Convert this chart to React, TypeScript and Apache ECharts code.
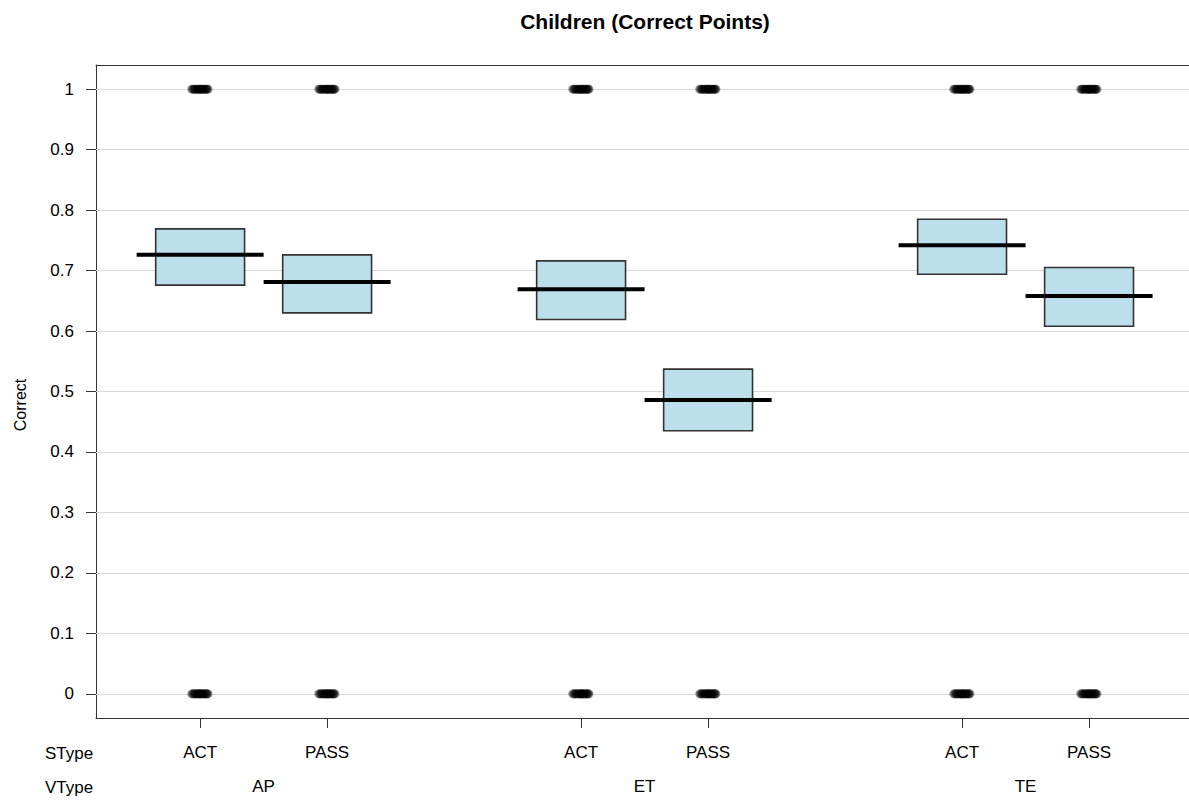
import React, { useEffect, useRef } from "react";
import * as echarts from "echarts";

const TITLE = "Children (Correct Points)";
const Y_NAME = "Correct";
const STYPE = ["ACT", "PASS", "ACT", "PASS", "ACT", "PASS"];
const VTYPE = ["AP", "ET", "TE"];
const MEANS = [0.726, 0.681, 0.669, 0.486, 0.742, 0.658];
const HDI_LOW = [0.676, 0.63, 0.619, 0.435, 0.694, 0.608];
const HDI_HIGH = [0.769, 0.726, 0.716, 0.537, 0.785, 0.705];
const Y_TICKS = [0, 0.1, 0.2, 0.3, 0.4, 0.5, 0.6, 0.7, 0.8, 0.9, 1];
const OUTCOMES = [0, 1];
// hand-placed horizontal jitter of the raw 0/1 observations
const JITTER = [
  -0.066, -0.058, -0.05, -0.044, -0.036, -0.03, -0.022, -0.015, -0.008, -0.002, 0.0, 0.006, 0.012,
  0.018, 0.025, 0.031, 0.038, 0.045, 0.05, 0.056, 0.062,
];

const FONT = "'Liberation Sans', Arial, Helvetica, sans-serif";

export default function App() {
  const ref = useRef<HTMLDivElement>(null);
  useEffect(() => {
    if (!ref.current) return;
    const chart = echarts.init(ref.current, null, { renderer: "svg" });
    const pos = STYPE.map((_, i) => Math.floor(i / 2) * 3 + (i % 2) + 1);
    const vpos = VTYPE.map((_, g) => g * 3 + 1.5);
    const points: number[][] = [];
    pos.forEach((p) => {
      OUTCOMES.forEach((o) => {
        JITTER.forEach((j) => points.push([p + j, o]));
      });
    });
    const boxes = pos.map((p, i) => [p, HDI_LOW[i], HDI_HIGH[i], MEANS[i]]);
    const xmin = 0.18;
    const xmax = 8.787;
    const labelStyle = { fontFamily: FONT, fontSize: 17, color: "#000" };

    chart.setOption({
      animation: false,
      backgroundColor: "#fff",
      grid: { left: 96, right: 0, top: 65, bottom: 82, containLabel: false },
      xAxis: [
        {
          type: "value",
          min: xmin,
          max: xmax,
          position: "bottom",
          axisLine: { show: true, onZero: false, lineStyle: { color: "#333", width: 1 } },
          axisTick: { show: true, length: 10, customValues: pos, lineStyle: { color: "#333" } },
          axisLabel: {
            ...labelStyle,
            customValues: pos,
            margin: 26,
            formatter: (v: number) => {
              const i = pos.indexOf(Math.round(v));
              return i >= 0 ? STYPE[i] : "";
            },
          },
          splitLine: { show: false },
        },
        {
          type: "value",
          min: xmin,
          max: xmax,
          position: "bottom",
          offset: 34,
          axisLine: { show: false, onZero: false },
          axisTick: { show: false },
          axisLabel: {
            ...labelStyle,
            customValues: vpos,
            margin: 26,
            formatter: (v: number) => {
              const i = vpos.findIndex((q) => Math.abs(q - v) < 1e-6);
              return i >= 0 ? VTYPE[i] : "";
            },
          },
          splitLine: { show: false },
        },
        {
          type: "value",
          min: xmin,
          max: xmax,
          position: "top",
          axisLine: { show: true, onZero: false, lineStyle: { color: "#333", width: 1 } },
          axisTick: { show: false },
          axisLabel: { show: false },
          splitLine: { show: false },
        },
      ],
      yAxis: {
        type: "value",
        min: -0.04,
        max: 1.04,
        axisLine: { show: true, onZero: false, lineStyle: { color: "#333", width: 1 } },
        axisTick: { show: true, length: 10, customValues: Y_TICKS, lineStyle: { color: "#333" } },
        axisLabel: {
          ...labelStyle,
          customValues: Y_TICKS,
          margin: 22,
          align: "right",
          formatter: (v: number) => String(Math.round(v * 10) / 10),
        },
        splitLine: { show: false },
      },
      graphic: [
        {
          type: "text",
          x: 645,
          y: 21,
          style: { text: TITLE, font: `bold 21px ${FONT}`, fill: "#000", textAlign: "center", textVerticalAlign: "middle" },
        },
        {
          type: "text",
          x: 20,
          y: 405,
          rotation: Math.PI / 2,
          style: { text: Y_NAME, font: `16px ${FONT}`, fill: "#000", textAlign: "center", textVerticalAlign: "middle" },
        },
        {
          type: "text",
          x: 45,
          y: 753,
          style: { text: "SType", font: `17px ${FONT}`, fill: "#000", textAlign: "left", textVerticalAlign: "middle" },
        },
        {
          type: "text",
          x: 45,
          y: 787,
          style: { text: "VType", font: `17px ${FONT}`, fill: "#000", textAlign: "left", textVerticalAlign: "middle" },
        },
      ],
      series: [
        {
          type: "scatter",
          xAxisIndex: 0,
          yAxisIndex: 0,
          data: points,
          symbol: "circle",
          symbolSize: 9,
          itemStyle: { color: "rgba(0,0,0,0.45)", borderWidth: 0 },
          silent: true,
          z: 3,
          markLine: {
            silent: true,
            symbol: "none",
            label: { show: false },
            lineStyle: { color: "#d9d9d9", type: "solid", width: 1 },
            data: Y_TICKS.map((v) => ({ yAxis: v })),
            z: 1,
          },
        },
        {
          type: "custom",
          xAxisIndex: 0,
          yAxisIndex: 0,
          data: boxes,
          z: 4,
          silent: true,
          renderItem: (params: any, api: any) => {
            const x = api.value(0);
            const lo = api.value(1);
            const hi = api.value(2);
            const m = api.value(3);
            const p1 = api.coord([x - 0.35, hi]);
            const p2 = api.coord([x + 0.35, lo]);
            const l1 = api.coord([x - 0.5, m]);
            const l2 = api.coord([x + 0.5, m]);
            return {
              type: "group",
              children: [
                {
                  type: "rect",
                  shape: { x: p1[0], y: p1[1], width: p2[0] - p1[0], height: p2[1] - p1[1] },
                  style: { fill: "#BDDFEB", stroke: "#333", lineWidth: 1.6 },
                },
                {
                  type: "line",
                  shape: { x1: l1[0], y1: l1[1], x2: l2[0], y2: l2[1] },
                  style: { stroke: "#000", lineWidth: 4 },
                },
              ],
            };
          },
        },
      ],
    });
    return () => chart.dispose();
  }, []);
  return (
    <div
      ref={ref}
      style={{ position: "fixed", left: 0, top: 0, width: 1189, height: 800, background: "#fff" }}
    />
  );
}
